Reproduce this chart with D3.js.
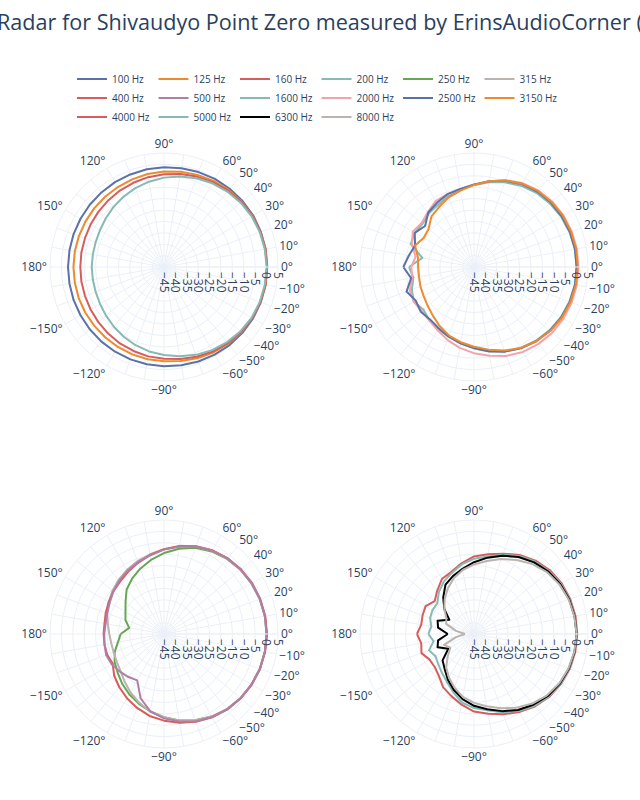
<!DOCTYPE html>
<html>
<head>
<meta charset="utf-8">
<script src="https://cdn.jsdelivr.net/npm/d3@7"></script>
<style>
  html, body { margin: 0; padding: 0; background: #fff; }
  svg { display: block; font-family: "Open Sans", "Noto Sans", sans-serif; }
</style>
</head>
<body>
<svg id="chart" width="640" height="800"></svg>
<script>
// ---------------- DATA ----------------
const titleText = "Radar for Shivaudyo Point Zero measured by ErinsAudioCorner (horizontal)";
const angles = [-180,-170,-160,-150,-140,-130,-120,-110,-100,-90,-80,-70,-60,-50,-40,-30,-20,-10,0,
                10,20,30,40,50,60,70,80,90,100,110,120,130,140,150,160,170,180];
const seriesNames = ["100 Hz","125 Hz","160 Hz","200 Hz","250 Hz","315 Hz","400 Hz","500 Hz",
                     "1600 Hz","2000 Hz","2500 Hz","3150 Hz","4000 Hz","5000 Hz","6300 Hz","8000 Hz"];
const seriesColors = ["#5a72a8","#ee8a2e","#d95c5c","#86bab4","#68a653","#bab4b0","#d95c5c","#b07fa6",
                      "#86bab4","#f5a3aa","#5a72a8","#ee8a2e","#d95c5c","#86bab4","#000000","#bab4b0"];
// which panel each series is drawn in (0 TL, 1 TR, 2 BL, 3 BR)
const seriesPanel = [0,0,0,0,2,2,2,2,1,1,1,1,3,3,3,3];

// values in dB, ordered as `angles` (-180 .. 180)
const v100  = [-2.9,-2.9,-2.8,-2.7,-2.5,-2.3,-2.1,-1.9,-1.7,-1.5,-1.2,-0.9,-0.6,-0.3,-0.1,0.1,0.2,0.3,0.3,
               0.3,0.2,0.2,0.0,-0.2,-0.4,-0.7,-1.0,-1.2,-1.5,-1.8,-2.0,-2.3,-2.5,-2.7,-2.8,-2.9,-2.9];
const v125  = [-5.3,-5.3,-5.2,-5.1,-5.0,-4.8,-4.5,-4.2,-3.9,-3.7,-3.1,-2.4,-1.7,-1.1,-0.6,-0.3,0.0,0.2,0.2,
               0.2,0.0,-0.2,-0.5,-0.9,-1.4,-2.0,-2.6,-3.1,-3.6,-4.1,-4.5,-4.8,-5.0,-5.2,-5.3,-5.3,-5.3];
const v160  = [-8.3,-8.2,-8.1,-7.8,-7.4,-6.9,-6.3,-5.8,-5.2,-4.8,-4.0,-3.1,-2.2,-1.4,-0.8,-0.3,0.0,0.1,0.2,
               0.1,0.0,-0.3,-0.7,-1.3,-2.0,-2.8,-3.6,-4.3,-5.0,-5.7,-6.3,-6.9,-7.4,-7.8,-8.1,-8.2,-8.3];
const v200  = [-13.3,-13.3,-13.1,-12.6,-11.8,-10.8,-9.7,-8.5,-7.4,-6.4,-5.2,-4.0,-2.9,-2.0,-1.2,-0.6,-0.3,-0.1,0.0,
               -0.1,-0.3,-0.6,-1.1,-1.8,-2.6,-3.6,-4.7,-5.8,-7.0,-8.2,-9.4,-10.6,-11.7,-12.6,-13.1,-13.3,-13.3];
const v250  = [-26,-24.5,-22,-20,-18.5,-16.5,-14.5,-12.5,-10.5,-8.5,-6.5,-4.7,-3.2,-2.0,-1.2,-0.7,-0.3,-0.1,0,
               -0.1,-0.3,-0.7,-1.2,-2.0,-3.2,-4.8,-7.0,-9.5,-12,-14.5,-17,-19.5,-23,-25.5,-27,-29.5,-26];
const v315  = [-21,-21.5,-21.5,-21,-20,-18,-15.5,-13,-10.5,-8.5,-6.5,-4.7,-3.2,-2.0,-1.2,-0.7,-0.3,-0.1,0,
               -0.1,-0.3,-0.6,-1.1,-1.8,-2.8,-4.2,-6.0,-7.8,-9.5,-11,-12.5,-14,-15.5,-17,-18.5,-20,-21];
const v400  = [-18.5,-18.5,-18.5,-19,-16.5,-14.5,-12.5,-10.5,-8.5,-7.0,-5.5,-4.0,-2.8,-1.8,-1.1,-0.6,-0.2,0.0,0.2,
               0.1,-0.1,-0.4,-0.9,-1.6,-2.6,-4.0,-5.8,-7.8,-9.8,-11.8,-13.5,-15,-16,-17,-17.8,-18.5,-18.5];
const v500  = [-18.8,-18.5,-18,-18.5,-19.5,-20.5,-21.5,-15,-10.5,-8,-6,-4.3,-2.9,-1.8,-1.1,-0.6,-0.2,0,0,
               0,-0.2,-0.5,-1.0,-1.7,-2.7,-4.2,-6.0,-8.0,-10,-11.5,-13,-14.5,-16,-17.5,-18.5,-19,-18.8];
const v1600 = [-16.5,-18,-16,-14.5,-16,-14.5,-13.5,-12.5,-11,-9.3,-7.4,-5.6,-4.0,-2.8,-1.8,-1.0,-0.5,-0.1,0,
               -0.1,-0.4,-0.9,-1.6,-2.5,-3.8,-5.5,-7.3,-9.0,-10.5,-12,-13.5,-14.2,-15.5,-15,-15.5,-22,-16.5];
const v2000 = [-17.5,-17.5,-15,-14.5,-15,-14.5,-13,-11,-9,-7.2,-5.5,-3.5,-2.0,-1.0,-0.2,0.3,0.6,0.8,0.8,
               0.8,0.6,0.3,-0.3,-1.2,-2.5,-4.5,-6.8,-9,-10.5,-11,-11.5,-13.5,-15,-14,-16,-19,-17.5];
const v2500 = [-14,-17,-13.5,-15.5,-14.5,-15,-14,-12.5,-11,-9.5,-7.5,-5.5,-3.8,-2.5,-1.5,-0.8,-0.3,0,0,
               0,-0.2,-0.5,-1.0,-1.8,-3.0,-4.8,-6.8,-8.8,-10.2,-11,-12.5,-13.8,-17,-15,-17.5,-16,-14];
const v3150 = [-20.5,-20.5,-20,-19.5,-18.5,-17,-15,-13,-11.5,-10,-8.2,-6,-4,-2.5,-1.3,-0.5,0,0.3,0.5,
               0.5,0.3,0,-0.6,-1.4,-2.8,-4.6,-6.8,-9,-11,-12.5,-14.5,-16,-19,-19.5,-17.5,-20,-20.5];
const v4000 = [-20,-21.5,-20.5,-22.5,-22.5,-21,-18,-16,-13.5,-11,-9.5,-7.5,-5.5,-3.5,-2,-1,-0.3,0.1,0.3,
               0.2,-0.1,-0.6,-1.5,-3,-5,-7.5,-9.5,-11,-13.5,-16,-17,-20,-22.5,-20.5,-21,-21.5,-20];
const v5000 = [-25,-27,-24,-25.5,-24.5,-23,-21,-18,-14.5,-12.5,-11,-8.5,-6,-3.8,-2.2,-1.2,-0.5,-0.1,0,
               -0.1,-0.4,-1,-2,-3.5,-5.5,-8,-10.5,-12,-14,-16.5,-18.5,-21,-24,-24,-24.5,-26,-25];
const v6300 = [-33.5,-29,-28,-32,-27,-25,-22,-19,-16,-13.5,-11.5,-9,-6.5,-4.5,-2.7,-1.5,-0.7,-0.2,0,
               -0.2,-0.6,-1.3,-2.4,-4,-6,-8.5,-11,-13.5,-16,-18,-20,-24,-28,-32.5,-28,-29,-33.5];
const v8000 = [-41,-37,-31,-33,-30,-26,-23,-20,-17,-14.8,-12.8,-10.3,-7.7,-5.2,-3.2,-1.8,-0.9,-0.3,0,
               -0.3,-0.8,-1.7,-3,-5,-7.5,-10,-12.5,-14.5,-16.5,-19,-22,-25,-28,-31,-32,-37,-41];
const seriesValues = [v100,v125,v160,v200,v250,v315,v400,v500,v1600,v2000,v2500,v3150,v4000,v5000,v6300,v8000];

const radialTicks = [-45,-40,-35,-30,-25,-20,-15,-10,-5,0,5];
const angularTicks = [0,10,20,30,40,50,60,90,120,150,180,-150,-120,-90,-60,-50,-40,-30,-20,-10];
const gridAngles = d3.range(0, 360, 10);
const radialRange = [-45, 5];

// ---------------- LAYOUT ----------------
const svg = d3.select("#chart");
const W = 640, H = 800;
const R = 114;
const centers = [[164, 267], [474, 267], [164, 634], [474, 634]];
const gridColor = "#ebf0f8";
const textColor = "#2a3f5f";
const minus = s => String(s).replace("-", "\u2212");

svg.append("rect").attr("width", W).attr("height", H).attr("fill", "#fff");

// title
svg.append("text")
  .attr("x", -3).attr("y", 29.5)
  .attr("font-size", 21.6).attr("fill", textColor)
  .text(titleText);

// legend
const legendX0 = 72, legendDX = 81.5, legendY0 = 79, legendDY = 19;
const leg = svg.append("g");
seriesNames.forEach((name, i) => {
  const col = i % 6, row = Math.floor(i / 6);
  const g = leg.append("g").attr("transform", `translate(${legendX0 + col * legendDX},${legendY0 + row * legendDY})`);
  g.append("line").attr("x1", 5).attr("x2", 35).attr("y1", 0).attr("y2", 0)
    .attr("stroke", seriesColors[i]).attr("stroke-width", 2);
  g.append("text").attr("x", 40).attr("y", 0).attr("dy", "0.35em")
    .attr("font-size", 10).attr("fill", textColor).text(name);
});

const rScale = d3.scaleLinear().domain(radialRange).range([0, R]);
const toRad = deg => deg * Math.PI / 180;

centers.forEach((c, p) => {
  const g = svg.append("g").attr("transform", `translate(${c[0]},${c[1]})`);
  // spokes
  g.selectAll("line.spoke").data(gridAngles).join("line")
    .attr("x1", 0).attr("y1", 0)
    .attr("x2", d => R * Math.cos(toRad(d)))
    .attr("y2", d => -R * Math.sin(toRad(d)))
    .attr("stroke", gridColor).attr("stroke-width", 1);
  // circles
  g.selectAll("circle.grid").data(radialTicks.slice(1, -1)).join("circle")
    .attr("r", d => rScale(d)).attr("fill", "none")
    .attr("stroke", gridColor).attr("stroke-width", 1);

  // traces
  const line = d3.lineRadial()
    .angle(d => Math.PI / 2 - toRad(d[0]))
    .radius(d => rScale(d[1]));
  seriesValues.forEach((vals, i) => {
    if (seriesPanel[i] !== p) return;
    g.append("path")
      .attr("d", line(angles.map((a, k) => [a, vals[k]])))
      .attr("fill", "none").attr("stroke", seriesColors[i])
      .attr("stroke-width", 2).attr("stroke-linejoin", "round");
  });

  // outer line & radial axis line (above traces)
  g.append("circle").attr("r", R).attr("fill", "none").attr("stroke", gridColor).attr("stroke-width", 1);
  g.append("line").attr("x1", 0).attr("y1", 0).attr("x2", R).attr("y2", 0)
    .attr("stroke", gridColor).attr("stroke-width", 1);

  // radial tick labels (rotated)
  g.selectAll("text.rt").data(radialTicks).join("text")
    .attr("transform", d => `translate(${rScale(d)},5) rotate(90)`)
    .attr("dy", "0.35em")
    .attr("font-size", 12).attr("fill", textColor)
    .text(d => minus(d));

  // angular tick labels
  const pad = 3;
  g.selectAll("text.at").data(angularTicks).join("text")
    .attr("x", d => (R + pad) * Math.cos(toRad(d)))
    .attr("y", d => -(R + pad) * Math.sin(toRad(d)) - Math.sin(toRad(d)) * 6)
    .attr("dy", "0.35em")
    .attr("text-anchor", d => {
      const cs = Math.cos(toRad(d));
      return Math.abs(cs) < 0.1 ? "middle" : (cs > 0 ? "start" : "end");
    })
    .attr("font-size", 12).attr("fill", textColor)
    .text(d => minus(d) + "°");
});
</script>
</body>
</html>
